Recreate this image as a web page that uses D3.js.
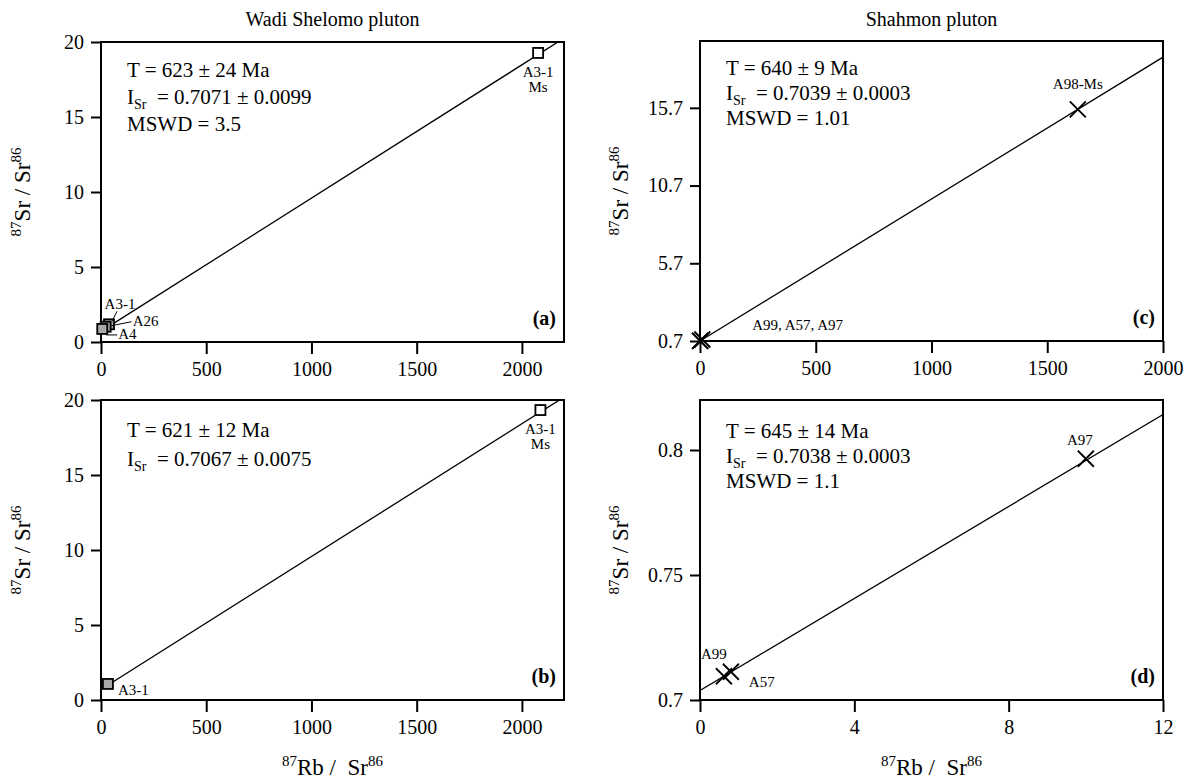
<!DOCTYPE html>
<html>
<head>
<meta charset="utf-8">
<script src="https://cdn.jsdelivr.net/npm/d3@7"></script>
<style>
  body { margin: 0; background: #fff; }
  svg { font-family: "Liberation Serif", "Times New Roman", serif; }
  text { white-space: pre; }
</style>
</head>
<body>
<svg id="chart" width="1189" height="780"></svg>
<script>
// ---- data ----
const panelLetters = ["a", "b", "c", "d"];
const ages = [623, 621, 640, 645];          // Ma
const ageErr = [24, 12, 9, 14];
const initSr = [0.7071, 0.7067, 0.7039, 0.7038];
const initSrErr = ["0.0099", "0.0075", "0.0003", "0.0003"];
const mswd = ["3.5", null, "1.01", "1.1"];

const wadiXTicks = [0, 500, 1000, 1500, 2000];
const wadiYTicks = [0, 5, 10, 15, 20];
const shahXTicksC = [0, 500, 1000, 1500, 2000];
const shahYTicksC = [0.7, 5.7, 10.7, 15.7];
const shahXTicksD = [0, 4, 8, 12];
const shahYTicksD = [0.7, 0.75, 0.8];

// Rb87/Sr86, Sr87/Sr86
const wadiA = [
  { id: "A3-1", rb: 38, sr: 1.18 },
  { id: "A26", rb: 22, sr: 1.02 },
  { id: "A4", rb: 6, sr: 0.87 },
  { id: "A3-1 Ms", rb: 2077, sr: 19.27, ms: true }
];
const wadiB = [
  { id: "A3-1", rb: 33, sr: 1.07 },
  { id: "A3-1 Ms", rb: 2088, sr: 19.33, ms: true }
];
const shahC = [
  { id: "A99", rb: 0.62, sr: 0.7095 },
  { id: "A57", rb: 0.80, sr: 0.7113 },
  { id: "A97", rb: 10.0, sr: 0.7965 },
  { id: "A98-Ms", rb: 1632, sr: 15.6 }
];
const shahD = [
  { id: "A99", rb: 0.62, sr: 0.7095 },
  { id: "A57", rb: 0.80, sr: 0.7113 },
  { id: "A97", rb: 10.0, sr: 0.7965 }
];

const lambdaRb = 1.42e-11;

// ---- layout ----
const svg = d3.select("#chart");
const L = [101, 564], R = [700, 1163];
const TOP = [342, 42], BOT = [700, 400];

const panels = [
  { xr: L, yr: TOP, xd: [0, 2200], yd: [0, 20], xt: wadiXTicks, yt: wadiYTicks, pts: wadiA, mark: "square", textTop: 35, lineGap: 27 },
  { xr: L, yr: BOT, xd: [0, 2200], yd: [0, 20], xt: wadiXTicks, yt: wadiYTicks, pts: wadiB, mark: "square", textTop: 37, lineGap: 29 },
  { xr: R, yr: [341, 41], xd: [0, 2000], yd: [0.7, 20.0], xt: shahXTicksC, yt: shahYTicksC, pts: shahC, mark: "cross", textTop: 34, lineGap: 25 },
  { xr: R, yr: BOT, xd: [0, 12], yd: [0.7, 0.82], xt: shahXTicksD, yt: shahYTicksD, pts: shahD, mark: "cross", textTop: 38, lineGap: 25 }
];

// label placement relative to each point (pixels)
const labelLayout = {
  a: {
    "A4": { dx: 16, dy: 5, anchor: "start", lead: [[4, 6], [15, 6]] },
    "A26": { dx: 27, dy: -6, anchor: "start", lead: [[6, -1], [26, -5]] },
    "A3-1": { dx: 11, dy: -21, anchor: "middle", lead: [[3, -3], [8, -13]] },
    "A3-1 Ms": { ms: true }
  },
  b: {
    "A3-1": { dx: 10, dy: 6, anchor: "start" },
    "A3-1 Ms": { ms: true }
  },
  c: {
    "A99": { dx: 52, dy: -16, anchor: "start", text: "A99, A57, A97" },
    "A98-Ms": { dx: 0, dy: -26, anchor: "middle" }
  },
  d: {
    "A99": { dx: -10, dy: -23, anchor: "middle" },
    "A57": { dx: 18, dy: 10, anchor: "start" },
    "A97": { dx: -6, dy: -19, anchor: "middle" }
  }
};

panels.forEach((p, i) => {
  const letter = panelLetters[i];
  const x = d3.scaleLinear().domain(p.xd).range(p.xr);
  const y = d3.scaleLinear().domain(p.yd).range(p.yr);
  const g = svg.append("g");

  const clipId = "clip-" + letter;
  g.append("clipPath").attr("id", clipId)
    .append("rect")
    .attr("x", p.xr[0]).attr("y", p.yr[1])
    .attr("width", p.xr[1] - p.xr[0]).attr("height", p.yr[0] - p.yr[1]);

  // axes
  const yAxis = g.append("g")
    .attr("transform", `translate(${p.xr[0]},0)`)
    .call(d3.axisLeft(y).tickValues(p.yt).tickSize(10).tickPadding(7).tickFormat(d => String(d)));
  const xAxis = g.append("g")
    .attr("transform", `translate(0,${p.yr[0]})`)
    .call(d3.axisBottom(x).tickValues(p.xt).tickSize(12).tickPadding(8).tickFormat(d => String(d)));
  [yAxis, xAxis].forEach(a => {
    a.attr("font-family", null).attr("font-size", 20);
    a.select(".domain").remove();
    a.selectAll(".tick line").attr("stroke", "#000").attr("stroke-width", 2);
    a.selectAll(".tick text").attr("fill", "#000");
  });

  // frame
  g.append("rect")
    .attr("x", p.xr[0]).attr("y", p.yr[1])
    .attr("width", p.xr[1] - p.xr[0]).attr("height", p.yr[0] - p.yr[1])
    .attr("fill", "none").attr("stroke", "#000").attr("stroke-width", 2);

  // isochron
  const slope = Math.exp(lambdaRb * ages[i] * 1e6) - 1;
  const iso = p.xd.map(v => ({ rb: v, sr: initSr[i] + slope * v }));
  g.append("path")
    .attr("clip-path", `url(#${clipId})`)
    .attr("d", d3.line().x(d => x(d.rb)).y(d => y(d.sr))(iso))
    .attr("fill", "none").attr("stroke", "#000").attr("stroke-width", 1.3);

  // points
  const pg = g.append("g");
  p.pts.forEach(d => {
    const px = x(d.rb), py = y(d.sr);
    if (p.mark === "square") {
      pg.append("rect")
        .attr("x", px - 5).attr("y", py - 5).attr("width", 10).attr("height", 10)
        .attr("fill", d.ms ? "#fff" : "#a8a8a8")
        .attr("stroke", "#000").attr("stroke-width", 1.8);
    } else {
      pg.append("path")
        .attr("d", `M${px - 8},${py - 8}L${px + 8},${py + 8}M${px - 8},${py + 8}L${px + 8},${py - 8}`)
        .attr("stroke", "#000").attr("stroke-width", 1.8);
    }
    const lab = labelLayout[letter][d.id];
    if (!lab) return;
    if (lab.ms) {
      const name = d.id.split(" ");
      g.append("text").attr("x", px).attr("y", py + 24).attr("text-anchor", "middle")
        .attr("font-size", 15).text(name[0]);
      g.append("text").attr("x", px).attr("y", py + 39).attr("text-anchor", "middle")
        .attr("font-size", 15).text(name[1]);
      return;
    }
    if (lab.lead) {
      g.append("line")
        .attr("x1", px + lab.lead[0][0]).attr("y1", py + lab.lead[0][1])
        .attr("x2", px + lab.lead[1][0]).attr("y2", py + lab.lead[1][1])
        .attr("stroke", "#000").attr("stroke-width", 1);
    }
    g.append("text")
      .attr("x", px + lab.dx).attr("y", py + lab.dy)
      .attr("dy", "0.35em")
      .attr("text-anchor", lab.anchor)
      .attr("font-size", 15)
      .text(lab.text || d.id);
  });

  // isochron statistics
  const tx = p.xr[0] + 26, ty = p.yr[1] + p.textTop;
  g.append("text").attr("x", tx).attr("y", ty).attr("font-size", 21)
    .text(`T = ${ages[i]} ± ${ageErr[i]} Ma`);
  const isr = g.append("text").attr("x", tx).attr("y", ty + p.lineGap).attr("font-size", 21);
  isr.append("tspan").text("I");
  isr.append("tspan").attr("font-size", 14).attr("dy", 5).text("Sr");
  isr.append("tspan").attr("dy", -5).text(`  = ${d3.format(".4f")(initSr[i])} ± ${initSrErr[i]}`);
  if (mswd[i]) {
    g.append("text").attr("x", tx).attr("y", ty + 2 * p.lineGap).attr("font-size", 21)
      .text(`MSWD = ${mswd[i]}`);
  }

  // panel letter
  g.append("text")
    .attr("x", p.xr[1] - 8).attr("y", p.yr[0] - 17)
    .attr("text-anchor", "end").attr("font-size", 20).attr("font-weight", "bold")
    .text(`(${letter})`);

  // y axis title
  const ytx = p.xr[0] === L[0] ? 30 : 628;
  const ytitle = g.append("text")
    .attr("transform", `translate(${ytx},${(p.yr[0] + p.yr[1]) / 2}) rotate(-90)`)
    .attr("text-anchor", "middle").attr("font-size", 23);
  ytitle.append("tspan").attr("font-size", 15).attr("dy", -9).text("87");
  ytitle.append("tspan").attr("dy", 9).text("Sr / Sr");
  ytitle.append("tspan").attr("font-size", 15).attr("dy", -9).text("86");
});

// column titles
svg.append("text").attr("x", (L[0] + L[1]) / 2).attr("y", 26).attr("text-anchor", "middle")
  .attr("font-size", 20).text("Wadi Shelomo pluton");
svg.append("text").attr("x", (R[0] + R[1]) / 2).attr("y", 26).attr("text-anchor", "middle")
  .attr("font-size", 20).text("Shahmon pluton");

// x axis titles
[L, R].forEach(cols => {
  const t = svg.append("text").attr("x", (cols[0] + cols[1]) / 2).attr("y", 775)
    .attr("text-anchor", "middle").attr("font-size", 23);
  t.append("tspan").attr("font-size", 15).attr("dy", -9).text("87");
  t.append("tspan").attr("dy", 9).text("Rb /  Sr");
  t.append("tspan").attr("font-size", 15).attr("dy", -9).text("86");
});
</script>
</body>
</html>
